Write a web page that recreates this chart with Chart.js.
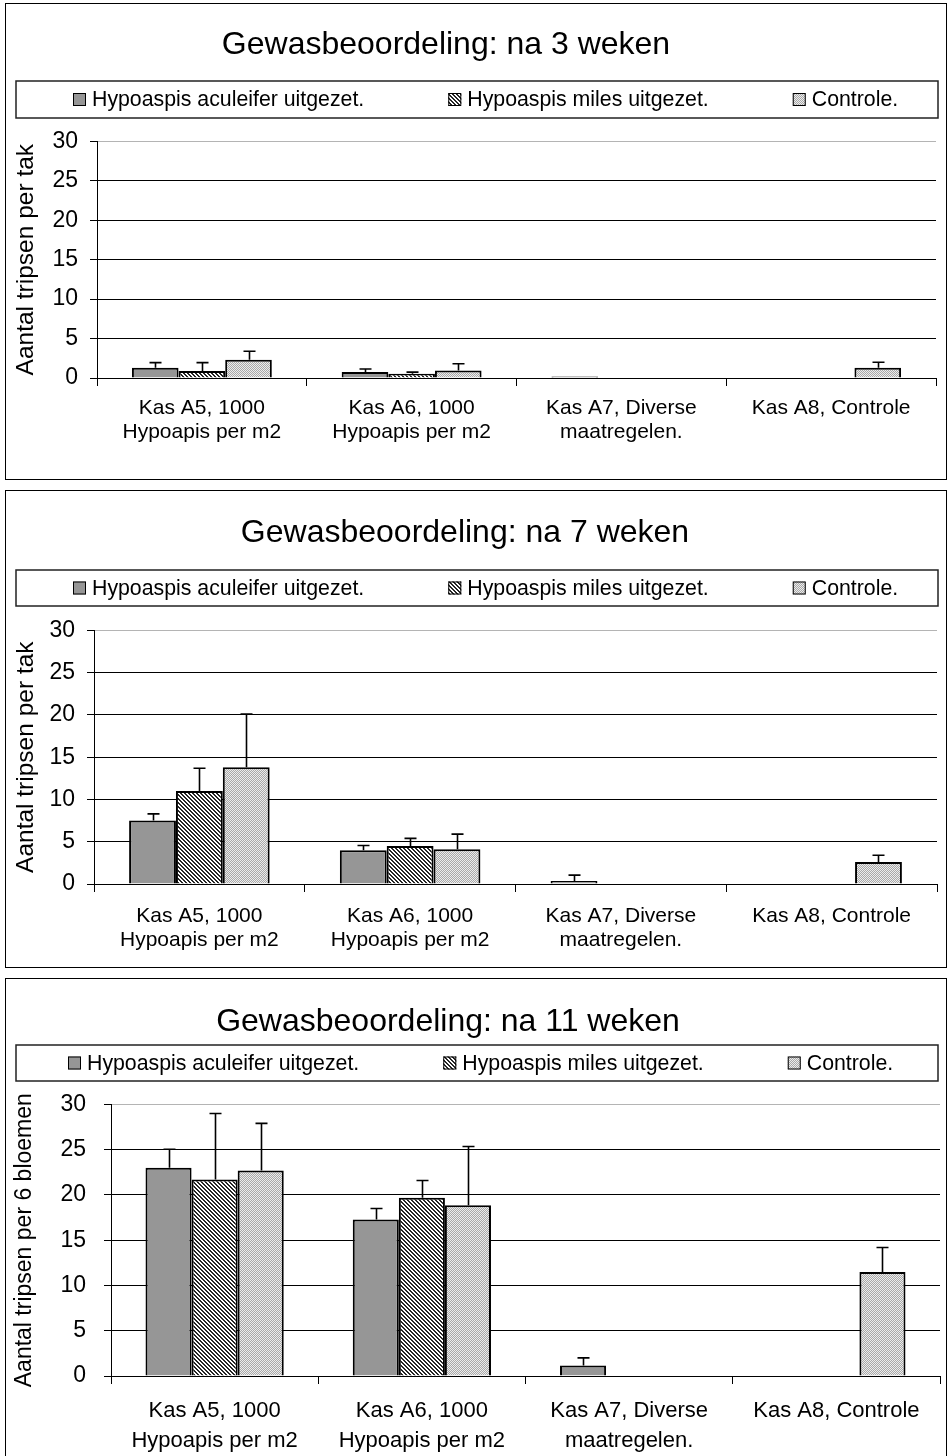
<!DOCTYPE html>
<html>
<head>
<meta charset="utf-8">
<script src="https://cdn.jsdelivr.net/npm/chart.js@4/dist/chart.umd.min.js"></script>
<style>
  html, body { margin: 0; padding: 0; background: #fff; }
  body { width: 952px; height: 1456px; position: relative; overflow: hidden; }
  .box { position: absolute; left: 5px; width: 940px; border: 1px solid #000; background: #fff; }
  .box canvas { display: block; }
</style>
</head>
<body>
<div class="box" style="top:3px;height:475px"><canvas id="c1" width="940" height="475"></canvas></div>
<div class="box" style="top:490px;height:476px"><canvas id="c2" width="940" height="476"></canvas></div>
<div class="box" style="top:978px;height:477px"><canvas id="c3" width="940" height="477"></canvas></div>
<script>
// ---------- DATA ----------
const categories = [["Kas A5, 1000", "Hypoapis per m2"], ["Kas A6, 1000", "Hypoapis per m2"], ["Kas A7, Diverse", "maatregelen."], "Kas A8, Controle"];
const seriesNames = ["Hypoaspis aculeifer uitgezet.", "Hypoaspis miles uitgezet.", "Controle."];
const yTicks = [0, 5, 10, 15, 20, 25, 30];

const titles = ["Gewasbeoordeling: na 3 weken", "Gewasbeoordeling: na 7 weken", "Gewasbeoordeling: na 11 weken"];
const yTitles = ["Aantal tripsen per tak", "Aantal tripsen per tak", "Aantal tripsen per 6 bloemen"];

// week 3
const w3Aculeifer = [1.3, 0.75, 0.2, null];
const w3AculeiferErr = [0.65, 0.4, 0, null];
const w3Miles = [0.9, 0.55, null, null];
const w3MilesErr = [1.05, 0.2, null, null];
const w3Controle = [2.3, 0.95, null, 1.3];
const w3ControleErr = [1.1, 0.85, null, 0.7];
// week 7
const w7Aculeifer = [7.5, 4.0, 0.35, null];
const w7AculeiferErr = [0.8, 0.55, 0.7, null];
const w7Miles = [11.0, 4.5, null, null];
const w7MilesErr = [2.7, 0.9, null, null];
const w7Controle = [13.8, 4.1, null, 2.6];
const w7ControleErr = [6.3, 1.8, null, 0.8];
// week 11
const w11Aculeifer = [23.0, 17.3, 1.15, null];
const w11AculeiferErr = [2.05, 1.2, 0.85, null];
const w11Miles = [21.7, 19.7, null, null];
const w11MilesErr = [7.3, 1.9, null, null];
const w11Controle = [22.7, 18.85, null, 11.5];
const w11ControleErr = [5.2, 6.5, null, 2.7];

// ---------- PATTERNS ----------
function makePattern(size, draw) {
  const c = document.createElement('canvas');
  c.width = size; c.height = size;
  const g = c.getContext('2d');
  draw(g);
  return g.createPattern(c, 'repeat');
}
const fillSolid = '#969696';
const fillHatch = makePattern(4, g => {
  g.fillStyle = '#ffffff'; g.fillRect(0, 0, 4, 4);
  g.fillStyle = '#262626';
  for (let i = 0; i < 4; i++) { g.fillRect(i, i, 1, 1); g.fillRect((i + 1) % 4, i, 1, 1); }
});
const fillDots = makePattern(2, g => {
  g.fillStyle = '#ececec'; g.fillRect(0, 0, 2, 2);
  g.fillStyle = '#a8a8a8'; g.fillRect(0, 0, 1, 1); g.fillRect(1, 1, 1, 1);
});
const fills = [fillSolid, fillHatch, fillDots];

const FONT = "'Liberation Sans', Arial, sans-serif";
Chart.defaults.font.family = FONT;
Chart.defaults.color = '#000';

// ---------- PLUGINS ----------
const errorBars = {
  id: 'errorBars',
  afterDatasetsDraw(chart) {
    const ctx = chart.ctx;
    const y = chart.scales.y;
    ctx.save();
    ctx.strokeStyle = '#000';
    ctx.lineWidth = 1.6;
    chart.data.datasets.forEach((ds, i) => {
      const meta = chart.getDatasetMeta(i);
      ds.errors.forEach((e, j) => {
        const v = ds.data[j];
        if (v == null || !e) return;
        const bar = meta.data[j];
        const x = Math.round(bar.x) + 0.5;
        const top = y.getPixelForValue(v + e);
        ctx.beginPath();
        ctx.moveTo(x, bar.y);
        ctx.lineTo(x, top);
        ctx.moveTo(x - 6, top);
        ctx.lineTo(x + 6, top);
        ctx.stroke();
      });
    });
    ctx.restore();
  }
};

const boxLegend = {
  id: 'boxLegend',
  afterDraw(chart, args, opts) {
    const ctx = chart.ctx;
    ctx.save();
    ctx.lineWidth = 1.5;
    ctx.strokeStyle = '#222';
    ctx.strokeRect(opts.left, opts.top, opts.right - opts.left, opts.height);
    ctx.font = '21.3px ' + FONT;
    ctx.textBaseline = 'middle';
    ctx.textAlign = 'left';
    const cy = opts.top + opts.height / 2;
    let x = opts.x0;
    chart.data.datasets.forEach((ds) => {
      const s = 13;
      ctx.fillStyle = ds.backgroundColor;
      ctx.fillRect(x, cy - s / 2, s, s);
      ctx.lineWidth = 1;
      ctx.strokeStyle = '#000';
      ctx.strokeRect(x + 0.5, cy - s / 2 + 0.5, s - 1, s - 1);
      ctx.fillStyle = '#000';
      ctx.fillText(ds.label, x + s + 6, cy + 1);
      x += s + 6 + ctx.measureText(ds.label).width + opts.gap;
    });
    ctx.restore();
  }
};

// ---------- BUILD ----------
function build(id, cfg) {
  const datasets = cfg.values.map((vals, i) => ({
    label: seriesNames[i],
    data: vals,
    errors: cfg.errors[i],
    backgroundColor: fills[i],
    borderColor: '#000',
    borderWidth: 2,
    categoryPercentage: 0.667,
    barPercentage: 1.0
  }));
  const yTitleLH = cfg.yTitleFont * 1.2;
  return new Chart(document.getElementById(id), {
    type: 'bar',
    data: { labels: categories, datasets },
    plugins: [errorBars, boxLegend],
    options: {
      responsive: false,
      animation: false,
      devicePixelRatio: 1,
      layout: { padding: { left: cfg.padLeft, right: cfg.padRight, top: 0, bottom: cfg.padBottom } },
      plugins: {
        legend: { display: false },
        tooltip: { enabled: false },
        title: {
          display: true,
          text: cfg.title,
          font: { size: 32, weight: 'normal', family: FONT, lineHeight: 1.2 },
          color: '#000',
          padding: { top: cfg.titleTop, bottom: cfg.titleBottom }
        },
        boxLegend: cfg.legend
      },
      scales: {
        x: {
          grid: { display: true, drawOnChartArea: false, drawTicks: true, tickLength: 8, color: '#000', offset: true },
          border: { color: '#000', width: 1 },
          ticks: { font: { size: cfg.xFont, lineHeight: cfg.xLine }, color: '#000', padding: cfg.xPad, maxRotation: 0, autoSkip: false },
          afterFit(s) { s.height = cfg.xHeight; }
        },
        y: {
          min: 0, max: 30,
          afterBuildTicks(s) { s.ticks = yTicks.map(v => ({ value: v })); },
          grid: {
            color: c => (c.tick && c.tick.value === 30) ? '#b4b4b4' : '#000',
            tickColor: '#000', tickLength: 7, lineWidth: 1
          },
          border: { color: '#000', width: 1 },
          ticks: { font: { size: 23 }, color: '#000', padding: cfg.yPad },
          title: {
            display: true, text: cfg.yTitle,
            font: { size: cfg.yTitleFont, lineHeight: 1.2 }, color: '#000',
            padding: { top: cfg.yTitleCenter - cfg.padLeft - yTitleLH / 2, bottom: 0 }
          },
          afterFit(s) { s.width = cfg.axisX - cfg.padLeft; }
        }
      }
    }
  });
}

build('c1', {
  title: titles[0], yTitle: yTitles[0],
  values: [w3Aculeifer, w3Miles, w3Controle],
  errors: [w3AculeiferErr, w3MilesErr, w3ControleErr],
  titleTop: 22, titleBottom: 77,
  padLeft: -50, padRight: 10, padBottom: 35,
  axisX: 91, yPad: 12, yTitleFont: 24.5, yTitleCenter: 20,
  xHeight: 66, xPad: 10, xFont: 21, xLine: 1.143,
  legend: { left: 10, right: 932, top: 77, height: 37, x0: 67, gap: 84 }
});
build('c2', {
  title: titles[1], yTitle: yTitles[1],
  values: [w7Aculeifer, w7Miles, w7Controle],
  errors: [w7AculeiferErr, w7MilesErr, w7ControleErr],
  titleTop: 23, titleBottom: 78,
  padLeft: -13, padRight: 9, padBottom: 15,
  axisX: 88, yPad: 12, yTitleFont: 24.5, yTitleCenter: 20,
  xHeight: 68, xPad: 12, xFont: 21, xLine: 1.143,
  legend: { left: 10, right: 932, top: 79, height: 36, x0: 67, gap: 84 }
});
build('c3', {
  title: titles[2], yTitle: yTitles[2],
  values: [w11Aculeifer, w11Miles, w11Controle],
  errors: [w11AculeiferErr, w11MilesErr, w11ControleErr],
  titleTop: 24, titleBottom: 63,
  padLeft: -50, padRight: 6, padBottom: 0,
  axisX: 105, yPad: 18, yTitleFont: 23, yTitleCenter: 19,
  xHeight: 80, xPad: 12, xFont: 22, xLine: 1.36,
  legend: { left: 10, right: 932, top: 66, height: 36, x0: 62, gap: 84 }
});
</script>
</body>
</html>
